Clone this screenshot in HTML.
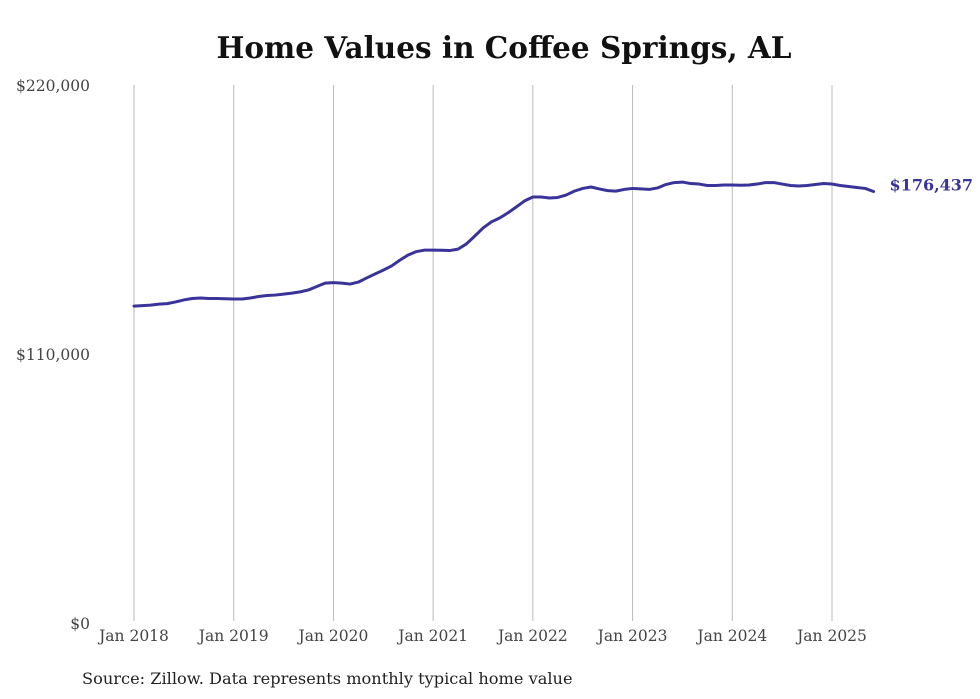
<!DOCTYPE html>
<html><head><meta charset="utf-8"><style>
body{margin:0;background:#fff;}
svg{display:block;font-family:"DejaVu Serif","Liberation Serif",serif;}
</style></head><body>
<svg id="chart" width="980" height="699" viewBox="0 0 980 699" xmlns="http://www.w3.org/2000/svg">
<text x="504" y="58" text-anchor="middle" font-size="29.5" font-weight="bold" fill="#111">Home Values in Coffee Springs, AL</text>
<g id="grid"></g>
<g id="yaxis"></g>
<g id="xaxis"></g>
<path id="line" fill="none" stroke="#3a3399" stroke-width="3" stroke-linejoin="round" stroke-linecap="round"/>
<text id="endlabel" font-size="16" font-weight="bold" fill="#3a3399"></text>
<text x="82" y="684" font-size="16.2" fill="#222">Source: Zillow. Data represents monthly typical home value</text>
</svg>
<script>
const yTicks=[0,110000,220000];
const yTickLabels=["$0","$110,000","$220,000"];
const xTickLabels=["Jan 2018","Jan 2019","Jan 2020","Jan 2021","Jan 2022","Jan 2023","Jan 2024","Jan 2025"];
const startYear=2018;
const values=[
129.6,129.8,130.0,130.4,130.6,131.3,132.1,132.7,132.9,132.7,132.7,132.6,
132.5,132.5,132.9,133.5,133.9,134.1,134.5,134.9,135.4,136.2,137.6,139.0,
139.2,139.0,138.6,139.4,141.1,142.7,144.3,146.0,148.4,150.5,151.9,152.5,
152.5,152.4,152.3,152.9,155.0,158.2,161.5,164.0,165.6,167.7,170.1,172.6,
174.2,174.2,173.8,174.0,175.0,176.6,177.7,178.3,177.5,176.8,176.6,177.3,
177.7,177.5,177.3,177.9,179.3,180.1,180.3,179.7,179.5,178.9,178.9,179.1,
179.1,179.0,179.1,179.5,180.1,180.1,179.5,178.9,178.7,178.9,179.3,179.7,
179.5,178.9,178.5,178.1,177.7,176.437
].map(v=>v*1000);
const lastLabel="$176,437";
const NS="http://www.w3.org/2000/svg";
const y=v=>623-v*(538/220000);
const x=m=>134+m*(698/84);
const grid=document.getElementById('grid'),ya=document.getElementById('yaxis'),xa=document.getElementById('xaxis');
xTickLabels.forEach((l,i)=>{
  const gx=x(i*12);
  const ln=document.createElementNS(NS,'line');
  
  
  ln.setAttribute('x1',gx);ln.setAttribute('x2',gx);ln.setAttribute('y1',85);ln.setAttribute('y2',621);
  ln.setAttribute('stroke','#bbb');ln.setAttribute('stroke-width','1');
  grid.appendChild(ln);
  const t=document.createElementNS(NS,'text');
  
  
  t.setAttribute('x',gx);t.setAttribute('y',641);t.setAttribute('text-anchor','middle');
  t.setAttribute('font-size','15.5');t.setAttribute('fill','#444');t.textContent=l;
  xa.appendChild(t);
});
yTicks.forEach((v,i)=>{
  const t=document.createElementNS(NS,'text');
  
  
  t.setAttribute('x',90);t.setAttribute('y',y(v)+6);t.setAttribute('text-anchor','end');
  t.setAttribute('font-size','15.5');t.setAttribute('fill','#444');t.textContent=yTickLabels[i];
  ya.appendChild(t);
});
let d='';
values.forEach((v,i)=>{d+=(i?'L':'M')+x(i).toFixed(2)+','+y(v).toFixed(2);});
document.getElementById('line').setAttribute('d',d);
const n=values.length-1,el=document.getElementById('endlabel');
el.setAttribute('x',x(n)+16);el.setAttribute('y',y(values[n])-1);el.textContent=lastLabel;
</script>
</body></html>
